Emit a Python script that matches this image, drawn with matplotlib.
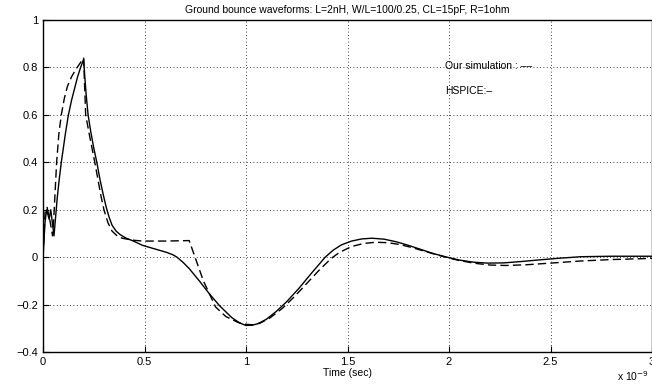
import matplotlib.pyplot as plt
import numpy as np

plt.rcParams['font.family'] = ['Liberation Sans', 'DejaVu Sans']

# HSPICE waveform (solid), time in ns
t_hspice = [0, 0.01, 0.018, 0.03, 0.038, 0.054, 0.062, 0.07, 0.08, 0.09, 0.1, 0.11, 0.125,
            0.14, 0.155, 0.17, 0.185, 0.2, 0.205, 0.212, 0.222, 0.235, 0.25, 0.265, 0.28,
            0.295, 0.31, 0.325, 0.34, 0.36, 0.38, 0.41, 0.44, 0.49, 0.55, 0.61, 0.64, 0.66,
            0.69, 0.72, 0.77, 0.82, 0.87, 0.93, 0.97, 1.0, 1.03, 1.06, 1.1, 1.15, 1.2, 1.26,
            1.32, 1.36, 1.39, 1.43, 1.47, 1.52, 1.57, 1.62, 1.68, 1.74, 1.8, 1.86, 1.92,
            1.99, 2.05, 2.12, 2.19, 2.27, 2.36, 2.45, 2.55, 2.65, 2.8, 3.0]
v_hspice = [0, 0.15, 0.2, 0.16, 0.2, 0.09, 0.17, 0.25, 0.33, 0.4, 0.46, 0.52, 0.6,
            0.66, 0.71, 0.76, 0.8, 0.835, 0.77, 0.69, 0.6, 0.53, 0.46, 0.4, 0.33,
            0.27, 0.215, 0.17, 0.135, 0.11, 0.095, 0.08, 0.07, 0.05, 0.035, 0.02, 0.01, 0.0,
            -0.022, -0.048, -0.1, -0.155, -0.205, -0.255, -0.278, -0.288, -0.287, -0.28, -0.262,
            -0.228, -0.188, -0.132, -0.07, -0.03, 0.0, 0.03, 0.052, 0.068, 0.077, 0.08, 0.076,
            0.065, 0.05, 0.033, 0.016, 0.0, -0.012, -0.021, -0.025, -0.024, -0.018, -0.011,
            -0.004, 0.002, 0.004, 0.004]

# our simulation (dashed)
t_sim = [0, 0.01, 0.02, 0.035, 0.047, 0.052, 0.058, 0.067, 0.078, 0.09, 0.105, 0.12, 0.14,
         0.16, 0.18, 0.2, 0.205, 0.21, 0.232, 0.255, 0.27, 0.285, 0.3, 0.32, 0.34, 0.365,
         0.39, 0.44, 0.49, 0.6, 0.72, 0.79, 0.85, 0.9, 0.96, 1.0, 1.03, 1.07, 1.12, 1.18,
         1.24, 1.3, 1.36, 1.42, 1.46, 1.52, 1.58, 1.64, 1.7, 1.76, 1.82, 1.9, 1.97, 2.04,
         2.12, 2.2, 2.28, 2.38, 2.5, 2.65, 2.8, 3.0]
v_sim = [0, 0.19, 0.21, 0.15, 0.09, 0.15, 0.25, 0.4, 0.52, 0.6, 0.67, 0.72, 0.76,
         0.79, 0.815, 0.84, 0.72, 0.6, 0.5, 0.4, 0.33, 0.26, 0.2, 0.145, 0.11, 0.09,
         0.08, 0.072, 0.068, 0.068, 0.07, -0.1, -0.21, -0.25, -0.275, -0.283, -0.285, -0.278,
         -0.255, -0.215, -0.165, -0.11, -0.055, -0.005, 0.02, 0.045, 0.058, 0.063, 0.061,
         0.053, 0.04, 0.02, 0.003, -0.012, -0.025, -0.033, -0.035, -0.032, -0.025, -0.016,
         -0.01, -0.005]

title = 'Ground bounce waveforms: L=2nH, W/L=100/0.25, CL=15pF, R=1ohm'

fig = plt.figure(figsize=(6.52, 3.86), dpi=100)
ax = fig.add_axes([0.066, 0.088, 0.934, 0.86])

ax.plot(t_sim, v_sim, 'k--', lw=1.0, dashes=(6, 3))
ax.plot(t_hspice, v_hspice, 'k-', lw=1.0)

ax.set_xlim(0, 3)
ax.set_ylim(-0.4, 1)
ax.set_xticks([0, 0.5, 1, 1.5, 2, 2.5, 3])
ax.set_xticklabels(['0', '0.5', '1', '1.5', '2', '2.5', '3'])
ax.set_yticks(np.arange(-0.4, 1.01, 0.2))
ax.set_yticklabels(['\u22120.4', '\u22120.2', '0', '0.2', '0.4', '0.6', '0.8', '1'])
ax.tick_params(direction='in', labelsize=8, length=4, width=0.8)
ax.grid(True, color='k', linestyle=(0, (1, 3)), lw=0.6)
for s in ax.spines.values():
    s.set_linewidth(1.0)

ax.set_title(title, fontsize=7.5, pad=5)
ax.set_xlabel('Time (sec)', fontsize=7.5, labelpad=1)
ax.text(0.995, -0.087, 'x 10$^{-9}$', transform=ax.transAxes, fontsize=7.5,
        ha='right', va='baseline')

ax.text(1.98, 0.805, 'Our simulation : \u2013\u2013', fontsize=7.5, va='center')
ax.text(1.98, 0.70, 'HSPICE:\u2013', fontsize=7.5, va='center')

fig.savefig('out.png', dpi=100)
